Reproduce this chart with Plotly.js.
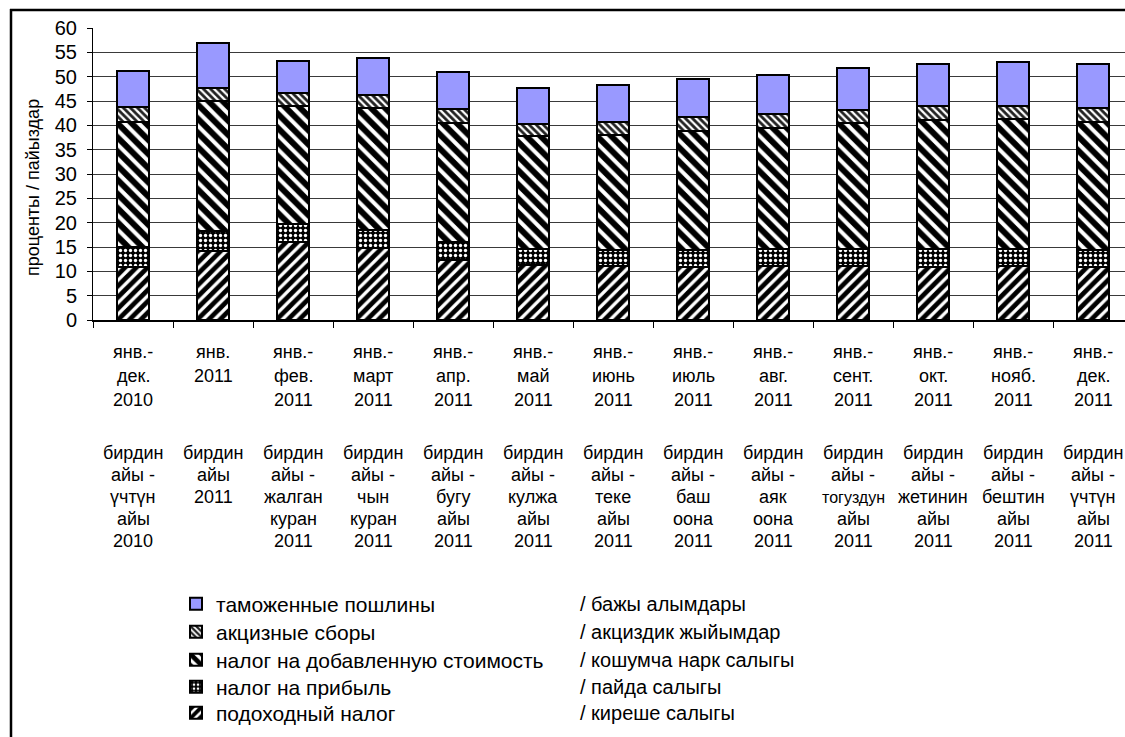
<!DOCTYPE html>
<html>
<head>
<meta charset="utf-8">
<script src="https://cdn.plot.ly/plotly-3.0.1.min.js"></script>
<style>
html,body{margin:0;padding:0;background:#fff;}
#chart{width:1125px;height:737px;}
</style>
</head>
<body>
<div id="chart"></div>
<script>
// ---- data ----
var categories = ["янв.-дек. 2010","янв. 2011","янв.-фев. 2011","янв.-март 2011","янв.-апр. 2011","янв.-май 2011","янв.-июнь 2011","янв.-июль 2011","янв.-авг. 2011","янв.-сент. 2011","янв.-окт. 2011","янв.-нояб. 2011","янв.-дек. 2011"];
var labelsRu = [
  ["янв.-","дек.","2010"],["янв.","2011"],["янв.-","фев.","2011"],["янв.-","март","2011"],
  ["янв.-","апр.","2011"],["янв.-","май","2011"],["янв.-","июнь","2011"],["янв.-","июль","2011"],
  ["янв.-","авг.","2011"],["янв.-","сент.","2011"],["янв.-","окт.","2011"],["янв.-","нояб.","2011"],
  ["янв.-","дек.","2011"]
];
var labelsKg = [
  ["бирдин","айы -","үчтүн","айы","2010"],["бирдин","айы","2011"],
  ["бирдин","айы -","жалган","куран","2011"],["бирдин","айы -","чын","куран","2011"],
  ["бирдин","айы -","бугу","айы","2011"],["бирдин","айы -","кулжа","айы","2011"],
  ["бирдин","айы -","теке","айы","2011"],["бирдин","айы -","баш","оона","2011"],
  ["бирдин","айы -","аяк","оона","2011"],["бирдин","айы -","тогуздун","айы","2011"],
  ["бирдин","айы -","жетинин","айы","2011"],["бирдин","айы -","бештин","айы","2011"],
  ["бирдин","айы -","үчтүн","айы","2011"]
];
var incomeTax  = [10.9, 14.2, 16.1, 14.8, 12.4, 11.2, 11.0, 10.8, 11.0, 11.0, 10.9, 11.0, 10.9];
var profitTax  = [4.1, 4.1, 3.7, 3.6, 3.6, 3.3, 3.3, 3.6, 3.5, 3.5, 3.6, 3.5, 3.5];
var vat        = [25.7, 26.6, 24.1, 25.2, 24.5, 23.4, 23.8, 24.5, 25.0, 26.0, 26.5, 26.8, 26.3];
var excise     = [3.0, 2.8, 2.7, 2.7, 2.8, 2.3, 2.6, 2.8, 2.8, 2.7, 2.9, 2.7, 2.8];
var customs    = [7.5, 9.2, 6.7, 7.5, 7.6, 7.5, 7.5, 7.9, 8.0, 8.6, 8.7, 9.1, 9.2];
var seriesNamesRu = ["подоходный налог","налог на прибыль","налог на добавленную стоимость","акцизные сборы","таможенные пошлины"];
var seriesNamesKg = ["/ киреше салыгы","/ пайда салыгы","/ кошумча нарк салыгы","/ акциздик жыйымдар","/ бажы алымдары"];
var yTitle = "проценты / пайыздар";

// ---- layout helpers ----
var W = 1125, H = 737, L = 93, T = 28, B = 320;
var PW = W - L, PH = B - T;
function py(p){ return (B - p) / PH; }
function px(p){ return (p - L) / PW; }
var FONT = "Liberation Sans, Arial, sans-serif";

var x = categories.map(function(c, i){ return i; });
var barW = 0.41;
var line = {color:"#000", width:2};
var legendIds = ["legend5","legend4","legend3","legend2","legend"];

function tr(k, y, marker){
  return {type:"bar", name:seriesNamesRu[k], x:x, y:y, width:barW, legend:legendIds[k],
    marker:Object.assign({line:line}, marker), hoverinfo:"y"};
}
var data = [
  tr(0, incomeTax, {color:"#fff", pattern:{shape:"/", bgcolor:"#fff", fgcolor:"#000", size:8, solidity:0.6, fillmode:"replace"}}),
  tr(1, profitTax, {color:"#000", pattern:{shape:".", bgcolor:"#000", fgcolor:"#fff", size:5, solidity:0.35, fillmode:"replace"}}),
  tr(2, vat,       {color:"#fff", pattern:{shape:"\\", bgcolor:"#fff", fgcolor:"#000", size:10, solidity:0.6, fillmode:"replace"}}),
  tr(3, excise,    {color:"#fff", pattern:{shape:"\\", bgcolor:"#fff", fgcolor:"#222", size:5, solidity:0.55, fillmode:"replace"}}),
  tr(4, customs,   {color:"#9999FF"})
];

var annotations = [];
var ruRows = [352, 376, 400];
var kgRows = [453, 475, 497, 519, 541];
labelsRu.forEach(function(lines, i){
  lines.forEach(function(t, j){
    annotations.push({x:i, xref:"x", y:py(ruRows[j]), yref:"paper", text:t, showarrow:false,
      xanchor:"center", yanchor:"middle", font:{family:FONT, size:18, color:"#000"}});
  });
});
labelsKg.forEach(function(lines, i){
  lines.forEach(function(t, j){
    var sz = t.length > 7 ? 16 : 18;
    annotations.push({x:i, xref:"x", y:py(kgRows[j]), yref:"paper", text:t, showarrow:false,
      xanchor:"center", yanchor:"middle", font:{family:FONT, size:sz, color:"#000"}});
  });
});
var legRows = [713, 687, 660, 632, 604];
seriesNamesKg.forEach(function(t, k){
  annotations.push({x:px(578), xref:"paper", y:py(legRows[k]), yref:"paper", text:t, showarrow:false,
    xanchor:"left", yanchor:"middle", font:{family:FONT, size:20, color:"#000"}});
});
annotations.push({x:px(33), xref:"paper", y:py(188), yref:"paper", text:yTitle, textangle:-90,
  showarrow:false, xanchor:"center", yanchor:"middle", font:{family:FONT, size:18, color:"#000"}});

var shapes = [
  {type:"line", xref:"paper", yref:"paper", x0:px(10), x1:px(W+5), y0:py(10), y1:py(10), line:{color:"#000", width:2.5}},
  {type:"line", xref:"paper", yref:"paper", x0:px(11), x1:px(11), y0:py(9), y1:py(H+5), line:{color:"#000", width:2.5}}
];

var layout = {
  width:W, height:H,
  margin:{l:L, r:0, t:T, b:H-B, pad:0, autoexpand:false},
  paper_bgcolor:"#fff", plot_bgcolor:"#fff",
  barmode:"stack",
  font:{family:FONT, color:"#000"},
  xaxis:{type:"linear", range:[-0.5, 12.4], showgrid:false, zeroline:false,
    showline:true, linecolor:"#000", linewidth:2,
    tickmode:"array", tickvals:x.map(function(v){return v+0.5;}).concat([-0.5]), ticks:"outside", ticklen:6, tickcolor:"#000",
    showticklabels:false, fixedrange:true},
  yaxis:{range:[0,60], dtick:5, tick0:0, showgrid:true, gridcolor:"#3a3a3a", gridwidth:1,
    zeroline:false, showline:true, linecolor:"#000", linewidth:1,
    ticks:"outside", ticklen:5, tickcolor:"#000", ticklabelstandoff:6,
    tickfont:{family:FONT, size:20, color:"#000"}, fixedrange:true},
  showlegend:true,
  annotations:annotations,
  shapes:shapes
};
// one single-entry legend per row, so the rows sit exactly where the reference has them
var rowOfLegend = {legend:604, legend2:632, legend3:660, legend4:687, legend5:713};
Object.keys(rowOfLegend).forEach(function(id){
  layout[id] = {orientation:"v", xref:"container", yref:"container",
    x:176/W, y:1-rowOfLegend[id]/H, xanchor:"left", yanchor:"middle",
    font:{family:FONT, size:21, color:"#000"}, bgcolor:"rgba(0,0,0,0)", itemwidth:30,
    borderwidth:0};
});

Plotly.newPlot("chart", data, layout, {displayModeBar:false, staticPlot:true});
</script>
</body>
</html>
